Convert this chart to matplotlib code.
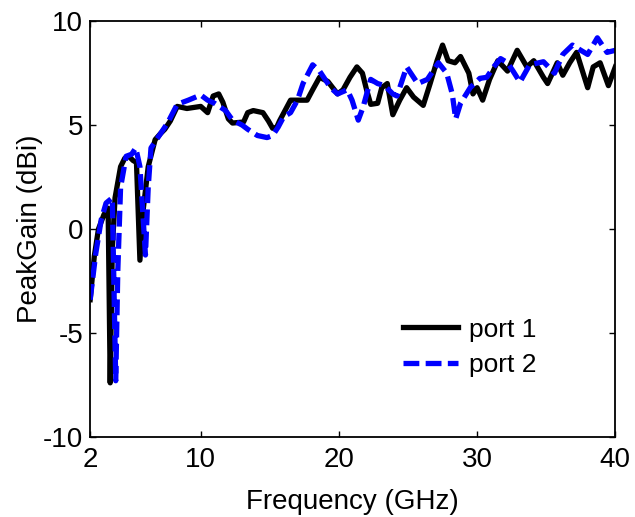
import matplotlib
matplotlib.use('Agg')
import matplotlib.pyplot as plt

plt.rcParams['font.family'] = ['Liberation Sans', 'DejaVu Sans']
plt.rcParams['axes.unicode_minus'] = False

# port 1 (black, solid)
freq_p1 = [2.0, 2.3, 2.6, 3.0, 3.3, 3.45, 3.6, 3.8, 4.2, 4.5,
           4.8, 5.1, 5.35, 5.6, 5.85, 6.2, 6.7, 7.1, 7.4, 7.8,
           8.3, 9.0, 10.0, 10.5, 10.9, 11.3, 11.6, 12.0, 12.3, 13.1,
           13.4, 13.8, 14.5, 14.9, 15.2, 15.5, 15.7, 16.5, 17.0, 17.7,
           18.1, 18.6, 19.2, 19.9, 20.3, 20.8, 21.3, 21.7, 22.0, 22.3,
           22.8, 23.1, 23.5, 23.9, 24.4, 24.9, 25.4, 26.1, 26.6, 27.1,
           27.5, 27.9, 28.4, 28.8, 29.4, 29.7, 30.0, 30.4, 30.9, 31.5,
           32.2, 32.9, 33.6, 34.1, 34.8, 35.1, 35.8, 36.2, 36.7, 37.2,
           38.0, 38.4, 38.9, 39.5, 40.0]
gain_p1 = [-3.4, -1.3, 0.0, 0.7, 1.0, -7.4, -1.0, 1.5, 3.0, 3.4,
           3.5, 3.3, 3.2, -1.5, 1.0, 3.0, 4.3, 4.6, 4.8, 5.2,
           5.9, 5.8, 5.9, 5.6, 6.4, 6.5, 6.1, 5.3, 5.1, 5.15,
           5.6, 5.7, 5.6, 5.2, 4.85, 4.9, 5.2, 6.2, 6.2, 6.2,
           6.7, 7.3, 7.1, 6.5, 6.7, 7.3, 7.8, 7.5, 6.7, 6.0,
           6.05, 6.8, 7.0, 5.5, 6.2, 6.8, 6.35, 5.95, 7.0, 8.1,
           8.85, 8.1, 8.0, 8.3, 7.5, 6.5, 6.8, 6.2, 7.2, 8.1,
           7.6, 8.6, 7.8, 8.1, 7.3, 7.0, 8.0, 7.4, 8.0, 8.5,
           6.8, 7.8, 8.0, 6.9, 7.8]

# port 2 (blue, dashed)
freq_p2 = [2.0, 2.4, 2.8, 3.15, 3.6, 3.85, 4.0, 4.2, 4.6, 5.0,
           5.3, 5.6, 6.0, 6.2, 6.4, 6.9, 7.6, 8.3, 9.1, 10.0,
           10.5, 11.0, 11.8, 12.3, 13.0, 13.4, 14.1, 14.8, 15.2, 15.6,
           16.0, 16.5, 17.0, 17.4, 18.1, 18.6, 19.4, 19.9, 20.6, 20.95,
           21.4, 21.75, 22.3, 22.8, 23.3, 23.9, 24.2, 24.9, 25.7, 26.4,
           27.2, 27.8, 28.2, 28.45, 28.8, 29.5, 30.2, 30.7, 31.2, 31.7,
           32.2, 32.6, 33.1, 33.8, 34.8, 35.6, 36.2, 36.9, 37.5, 38.0,
           38.7, 39.4, 40.0]
gain_p2 = [-3.4, -1.2, 0.45, 1.25, 1.5, -7.3, -2.0, 2.0, 3.5, 3.6,
           3.9, 3.0, -1.25, 2.0, 3.9, 4.4, 5.1, 6.0, 6.2, 6.45,
           6.2, 6.05, 5.7, 5.24, 5.0, 4.8, 4.5, 4.4, 4.5, 4.9,
           5.4, 5.6, 6.2, 7.0, 7.9, 7.6, 6.8, 6.5, 6.7, 6.2,
           5.24, 5.87, 7.2, 7.0, 6.9, 6.5, 6.4, 7.8, 7.0, 7.2,
           8.0, 7.5, 6.5, 5.3, 6.05, 6.8, 7.25, 7.3, 7.8, 8.2,
           8.0, 7.6, 7.07, 7.9, 8.05, 7.5, 8.4, 8.85, 8.6, 8.4,
           9.2, 8.5, 8.6]

x_ticks = [2, 10, 20, 30, 40]
y_ticks = [-10, -5, 0, 5, 10]

fig = plt.figure(figsize=(6.35, 5.17), dpi=100)
ax = fig.add_axes([0.142, 0.155, 0.827, 0.804])

ax.plot(freq_p1, gain_p1, color='black', lw=3.8, label='port 1')
ax.plot(freq_p2, gain_p2, color='blue', lw=3.8, dashes=(3.0, 1.2), label='port 2')

ax.set_xlim(2, 40)
ax.set_ylim(-10, 10)
ax.set_xticks(x_ticks)
ax.set_yticks(y_ticks)
ax.tick_params(direction='in', top=True, right=True, length=4, width=1, labelsize=20)
ax.tick_params(axis='x', pad=7)
ax.tick_params(axis='y', pad=5)
for s in ax.spines.values():
    s.set_linewidth(1.3)

ax.set_xlabel('Frequency (GHz)', fontsize=20, labelpad=12)
ax.set_ylabel('PeakGain (dBi)', fontsize=20, labelpad=0)

ax.legend(loc='center', bbox_to_anchor=(0.722, 0.215), frameon=False,
          fontsize=19, handlelength=2.1, labelspacing=0.45, handletextpad=0.4)

fig.savefig('out.png', dpi=100)
